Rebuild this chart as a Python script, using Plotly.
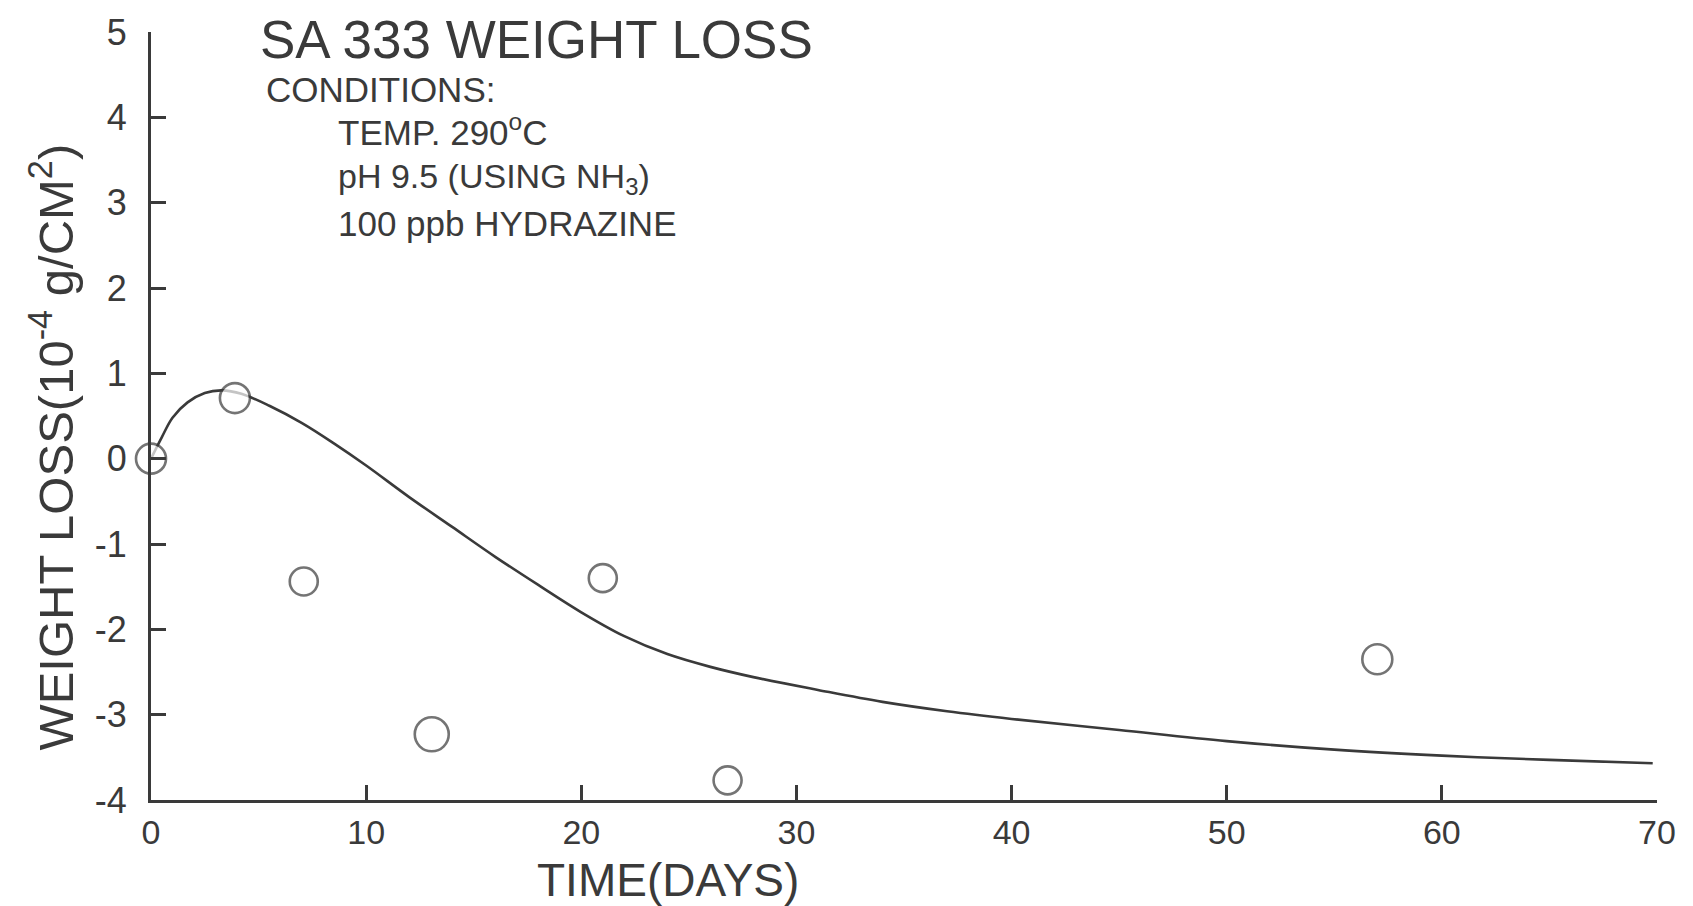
import plotly.graph_objects as go

# Measured weight loss of SA 333 specimens (10^-4 g/cm^2) versus exposure time
days = [0, 3.9, 7.1, 13.05, 21.0, 26.8, 57.0]
weight_loss = [0.0, 0.71, -1.44, -3.23, -1.40, -3.77, -2.35]

# Hand-fitted trend curve through the measurements
curve_days = [0, 0.5, 1.0, 1.7, 2.5, 3.3, 4.2, 5.5, 7.0, 8.5, 10, 12, 14, 16, 18,
              20, 22, 24, 26, 28, 31, 34, 37, 40, 45, 50, 55, 60, 65, 69.8]
curve_loss = [0.0, 0.25, 0.48, 0.66, 0.77, 0.80, 0.76, 0.62, 0.42, 0.18, -0.08,
              -0.45, -0.80, -1.15, -1.48, -1.80, -2.08, -2.29, -2.44, -2.56,
              -2.71, -2.85, -2.96, -3.05, -3.18, -3.31, -3.41, -3.48, -3.53, -3.57]

x_ticks = [0, 10, 20, 30, 40, 50, 60, 70]
y_ticks = [5, 4, 3, 2, 1, 0, -1, -2, -3, -4]
y_tick_labels = ["5", "4", "3", "2", "1", "0", "-1", "-2", "-3", "-4"]

INK = "#3a3a3a"
LETTERING = "Liberation Sans, Arial, sans-serif"

W, H = 1693, 906
L, R, T, B = 151, 36, 22, 106
PW, PH = W - L - R, H - T - B


def px(x):
    return (x - L) / PW


def py(y):
    return (H - B - y) / PH


fig = go.Figure()

fig.add_trace(go.Scatter(
    x=curve_days, y=curve_loss, mode="lines",
    line=dict(color=INK, width=2.6, shape="spline", smoothing=1.0),
    hoverinfo="skip", showlegend=False,
))

marker_sizes = [30, 30, 28, 34, 28, 28, 30]
fig.add_trace(go.Scatter(
    x=days, y=weight_loss, mode="markers",
    marker=dict(symbol="circle", size=marker_sizes, color="white",
                line=dict(color=INK, width=2.6)),
    cliponaxis=False, showlegend=False,
))

axis_common = dict(
    showgrid=False, zeroline=False, showline=True, linecolor=INK, linewidth=3,
    ticks="inside", ticklen=15, tickwidth=2.5, tickcolor=INK,
)

fig.update_xaxes(
    range=[0, 70], tickmode="array", tickvals=x_ticks,
    tickfont=dict(family=LETTERING, size=34, color=INK),
    ticklabelstandoff=0, **axis_common,
)
fig.update_yaxes(
    range=[-4, 5], tickmode="array", tickvals=y_ticks, ticktext=y_tick_labels,
    tickfont=dict(family=LETTERING, size=36, color=INK),
    ticklabelstandoff=14, **axis_common,
)

annotations = [
    dict(text="SA 333 WEIGHT LOSS", x=px(258), y=py(30), size=53),
    dict(text="CONDITIONS:", x=px(264), y=py(80), size=35),
    dict(text="TEMP. 290<sup>o</sup>C", x=px(336), y=py(121), size=35),
    dict(text="pH 9.5 (USING NH<sub>3</sub>)", x=px(336), y=py(170), size=34),
    dict(text="100 ppb HYDRAZINE", x=px(336), y=py(216), size=35),
]
for a in annotations:
    fig.add_annotation(
        text=a["text"], x=a["x"], y=a["y"], xref="paper", yref="paper",
        xanchor="left", yanchor="middle", showarrow=False,
        font=dict(family=LETTERING, size=a["size"], color=INK),
    )

fig.add_annotation(
    text="WEIGHT LOSS(10<sup>-4</sup> g/CM<sup>2</sup>)",
    x=px(52), y=py(443), xref="paper", yref="paper",
    xanchor="center", yanchor="middle", textangle=-90, showarrow=False,
    font=dict(family=LETTERING, size=49, color=INK),
)
fig.add_annotation(
    text="TIME(DAYS)", x=px(668), y=py(881), xref="paper", yref="paper",
    xanchor="center", yanchor="middle", showarrow=False,
    font=dict(family=LETTERING, size=46, color=INK),
)

fig.update_layout(
    width=W, height=H, autosize=False,
    margin=dict(l=L, r=R, t=T, b=B, pad=0),
    paper_bgcolor="white", plot_bgcolor="white",
    showlegend=False,
)

fig.write_html("out.html")
